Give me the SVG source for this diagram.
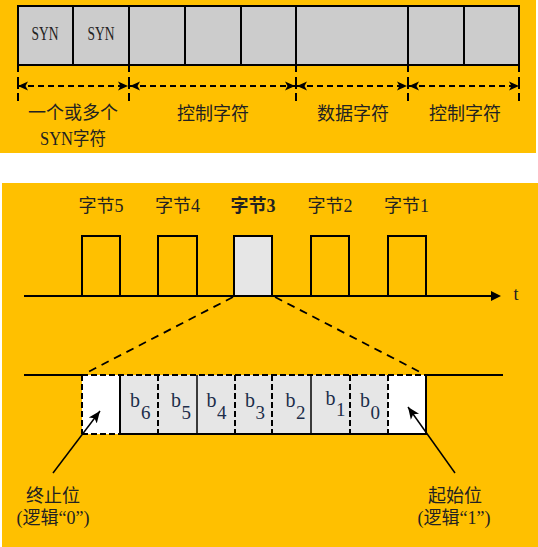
<svg xmlns="http://www.w3.org/2000/svg" width="538" height="547" viewBox="0 0 538 547">
<defs>
<style>
.bg{fill:#FFC000}
.t{font-family:"Liberation Serif","Noto Sans CJK SC",serif;font-size:18px;fill:#222;text-anchor:middle}
.b{font-family:"Liberation Serif",serif;font-size:20px;fill:#1c2d4a}
.s{font-family:"Liberation Serif",serif;font-size:19px;fill:#1c2d4a}
.ln{stroke:#000;stroke-width:2;fill:none}
.thin{stroke:#000;stroke-width:1.5;fill:none}
.dsh{stroke:#000;stroke-width:2;fill:none;stroke-dasharray:6 3}
.cell{fill:#cccccc;stroke:#000;stroke-width:2}
</style>
<marker id="ah" markerUnits="userSpaceOnUse" markerWidth="10" markerHeight="10" viewBox="0 0 10 10" refX="10" refY="5" orient="auto-start-reverse">
<path d="M0,0.5 L10,5 L0,9.5 L2.5,5 z" fill="#000"/>
</marker>
<marker id="ah2" markerUnits="userSpaceOnUse" markerWidth="12" markerHeight="12" viewBox="0 0 12 12" refX="12" refY="6" orient="auto">
<path d="M0,1 L12,6 L0,11 L3,6 z" fill="#000"/>
</marker>
</defs>

<rect class="bg" x="0" y="0" width="536" height="153"/>
<rect class="bg" x="2" y="183" width="536" height="364"/>

<g id="frame">
<rect class="cell" x="18" y="6" width="501" height="59"/>
<line class="ln" x1="73" y1="6" x2="73" y2="65"/>
<line class="ln" x1="129" y1="6" x2="129" y2="65"/>
<line class="ln" x1="185" y1="6" x2="185" y2="65"/>
<line class="ln" x1="241" y1="6" x2="241" y2="65"/>
<line class="ln" x1="296" y1="6" x2="296" y2="65"/>
<line class="ln" x1="408" y1="6" x2="408" y2="65"/>
<line class="ln" x1="464" y1="6" x2="464" y2="65"/>
<text class="t" x="45" y="40" font-size="20" textLength="27" lengthAdjust="spacingAndGlyphs">SYN</text>
<text class="t" x="101" y="40" font-size="20" textLength="27" lengthAdjust="spacingAndGlyphs">SYN</text>
</g>

<g id="label-syn">
<text class="t" x="73" y="118.5">一个或多个</text>
<text class="t" x="73" y="144.5" textLength="66" lengthAdjust="spacingAndGlyphs">SYN字符</text>
</g>
<g id="label-ctrl1"><text class="t" x="213" y="119.5">控制字符</text></g>
<g id="label-data"><text class="t" x="353" y="119.5">数据字符</text></g>
<g id="label-ctrl2"><text class="t" x="465" y="119.5">控制字符</text></g>

<g id="pulses">
<polyline class="ln" points="82,296 82,236 120,236 120,296"/>
<polyline class="ln" points="158,296 158,236 197,236 197,296"/>
<rect x="234" y="236" width="38" height="60" fill="#e6e6e6" stroke="#000" stroke-width="2"/>
<polyline class="ln" points="311,296 311,236 349,236 349,296"/>
<polyline class="ln" points="388,296 388,236 426,236 426,296"/>
<text class="t" x="101" y="211.5">字节5</text>
<text class="t" x="177.5" y="211.5">字节4</text>
<text class="t" x="253" y="211.5" font-weight="bold">字节3</text>
<text class="t" x="330" y="211.5">字节2</text>
<text class="t" x="406.5" y="211.5">字节1</text>
<text class="t" x="516" y="300" font-size="20">t</text>
</g>

<g id="bits">
<rect x="82" y="375" width="38" height="59" fill="#fff"/>
<rect x="120" y="375" width="268" height="59" fill="#e6e6e6"/>
<rect x="388" y="375" width="38" height="59" fill="#fff"/>
<line class="dsh" x1="82" y1="375" x2="426" y2="375"/>
<line class="dsh" x1="82" y1="375" x2="82" y2="434"/>
<line class="dsh" x1="82" y1="434" x2="120" y2="434"/>
<line class="ln" x1="119" y1="434" x2="427" y2="434"/>
<line class="ln" x1="120" y1="375" x2="120" y2="434"/>
<line class="thin" x1="197" y1="375" x2="197" y2="434"/>
<line class="thin" x1="311" y1="375" x2="311" y2="434"/>
<line class="ln" x1="426" y1="374" x2="426" y2="435"/>
<line class="dsh" x1="158" y1="375" x2="158" y2="434"/>
<line class="dsh" x1="235" y1="375" x2="235" y2="434"/>
<line class="dsh" x1="272" y1="375" x2="272" y2="434"/>
<line class="dsh" x1="350" y1="375" x2="350" y2="434"/>
<line class="dsh" x1="388" y1="375" x2="388" y2="434"/>
<text class="b" x="130" y="407">b</text><text class="s" x="141" y="419">6</text>
<text class="b" x="171" y="407">b</text><text class="s" x="181.5" y="419">5</text>
<text class="b" x="206.5" y="407">b</text><text class="s" x="217" y="419">4</text>
<text class="b" x="245" y="407">b</text><text class="s" x="255.5" y="419">3</text>
<text class="b" x="285.5" y="407">b</text><text class="s" x="296" y="419">2</text>
<text class="b" x="325.5" y="405">b</text><text class="s" x="336" y="416" fill="#3a1a2a">1</text>
<text class="b" x="360" y="407">b</text><text class="s" x="370.5" y="419">0</text>
</g>

<g id="label-stop">
<text class="t" x="53" y="501.5">终止位</text>
<text class="t" x="53" y="523.5">(逻辑“0”)</text>
</g>
<g id="label-start">
<text class="t" x="455" y="501.5">起始位</text>
<text class="t" x="454" y="523.5">(逻辑“1”)</text>
</g>

<g id="connectors">
<g stroke="#000" stroke-width="2" fill="none">
<line x1="18" y1="65" x2="18" y2="101" stroke-dasharray="7 5 12 4 8"/>
<line x1="129" y1="65" x2="129" y2="101" stroke-dasharray="7 5 12 4 8"/>
<line x1="296" y1="65" x2="296" y2="101" stroke-dasharray="7 5 12 4 8"/>
<line x1="408" y1="65" x2="408" y2="101" stroke-dasharray="7 5 12 4 8"/>
<line x1="519" y1="65" x2="519" y2="101" stroke-dasharray="7 5 12 4 8"/>
<g stroke-dasharray="6 4" marker-start="url(#ah)" marker-end="url(#ah)">
<line x1="18" y1="86" x2="128" y2="86"/>
<line x1="130" y1="86" x2="295" y2="86"/>
<line x1="297" y1="86" x2="407" y2="86"/>
<line x1="409" y1="86" x2="519" y2="86"/>
</g>
</g>
<line class="ln" x1="24" y1="296" x2="494" y2="296"/>
<path d="M491,291 L501,296 L491,301 z" fill="#000"/>
<line x1="233" y1="297" x2="88" y2="372" stroke="#000" stroke-width="1.8" stroke-dasharray="8 6"/>
<line x1="275" y1="297" x2="420" y2="372" stroke="#000" stroke-width="1.8" stroke-dasharray="8 6"/>
<line class="ln" x1="24" y1="375" x2="82" y2="375"/>
<line class="ln" x1="426" y1="375" x2="503" y2="375"/>
<line x1="53" y1="473" x2="100" y2="411" stroke="#000" stroke-width="1.5" marker-end="url(#ah2)"/>
<line x1="455" y1="473" x2="408" y2="407" stroke="#000" stroke-width="1.5" marker-end="url(#ah2)"/>
</g>
</svg>
